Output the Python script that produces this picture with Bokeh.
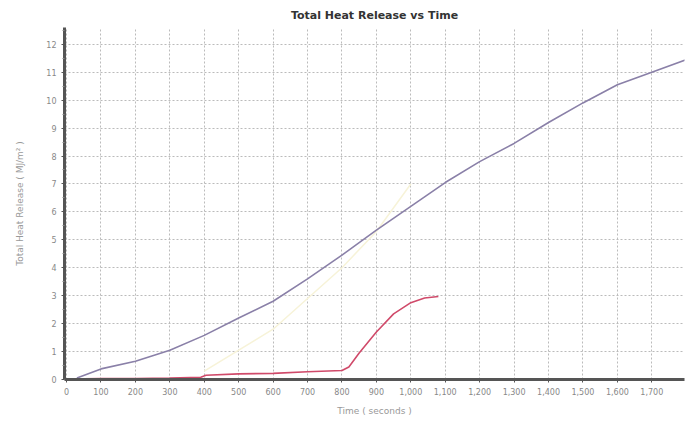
from bokeh.plotting import figure
from bokeh.models import Range1d, NumeralTickFormatter, FixedTicker
from bokeh.embed import file_html
from bokeh.resources import INLINE

# Data
blue_t = [30, 100, 200, 300, 400, 500, 600, 700, 800, 900, 1000, 1100, 1200, 1300, 1400, 1500, 1600, 1700, 1800]
blue_y = [0.05, 0.38, 0.65, 1.05, 1.58, 2.2, 2.8, 3.6, 4.45, 5.35, 6.2, 7.05, 7.8, 8.45, 9.2, 9.9, 10.55, 11.0, 11.45]

red_t = [0, 100, 200, 300, 390, 405, 500, 600, 700, 800, 820, 850, 900, 950, 1000, 1040, 1080]
red_y = [0.02, 0.03, 0.03, 0.05, 0.08, 0.15, 0.2, 0.22, 0.28, 0.32, 0.45, 0.95, 1.7, 2.35, 2.75, 2.92, 2.97]

yellow_t = [400, 600, 800, 900, 1000]
yellow_y = [0.3, 1.8, 4.0, 5.3, 7.0]

x_ticks = list(range(0, 1800, 100))
y_ticks = list(range(0, 13))

p = figure(width=688, height=419, output_backend="svg", toolbar_location=None,
           title="Total Heat Release vs Time",
           x_range=Range1d(-6, 1795), y_range=Range1d(0, 12.6),
           min_border_left=64, min_border_right=4, min_border_bottom=40, min_border_top=5)
p.frame_width = 620
p.frame_height = 352

p.title.align = "center"
p.title.text_font = "DejaVu Sans"
p.title.text_font_size = "11px"
p.title.text_font_style = "bold"
p.title.text_color = "#333333"
p.title.standoff = 12

p.outline_line_color = None
p.background_fill_color = "white"

p.line(yellow_t, yellow_y, line_color="#f7f3d8", line_width=1.5)
p.line(blue_t, blue_y, line_color="#8a80a8", line_width=1.6)
p.line(red_t, red_y, line_color="#d04a6a", line_width=1.6)

p.xaxis.ticker = FixedTicker(ticks=x_ticks)
p.yaxis.ticker = FixedTicker(ticks=y_ticks, minor_ticks=[i + 0.5 for i in range(13)])
p.xaxis.formatter = NumeralTickFormatter(format="0,0")

for ax in (p.xaxis, p.yaxis):
    ax.axis_line_color = "#555555"
    ax.axis_line_width = 3
    ax.major_tick_line_color = "#555555"
    ax.minor_tick_line_color = "#888888"
    ax.major_tick_out = 3
    ax.major_tick_in = 0
    ax.minor_tick_out = 2
    ax.major_label_text_font = "DejaVu Sans"
    ax.major_label_text_font_size = "8px"
    ax.major_label_text_color = "#888888"
    ax.axis_label_text_font = "DejaVu Sans"
    ax.axis_label_text_font_size = "9px"
    ax.axis_label_text_font_style = "normal"
    ax.axis_label_text_color = "#999999"

p.xaxis.axis_label = "Time ( seconds )"
p.yaxis.axis_label = "Total Heat Release ( MJ/m² )"
p.xaxis.axis_label_standoff = 8
p.yaxis.axis_label_standoff = 18

p.xgrid.ticker = FixedTicker(ticks=x_ticks)
p.ygrid.ticker = FixedTicker(ticks=y_ticks)
for g in (p.xgrid, p.ygrid):
    g.grid_line_color = "#bbbbbb"
    g.grid_line_dash = "2 2"
    g.grid_line_width = 1

open("out.html", "w").write(file_html(p, INLINE))
